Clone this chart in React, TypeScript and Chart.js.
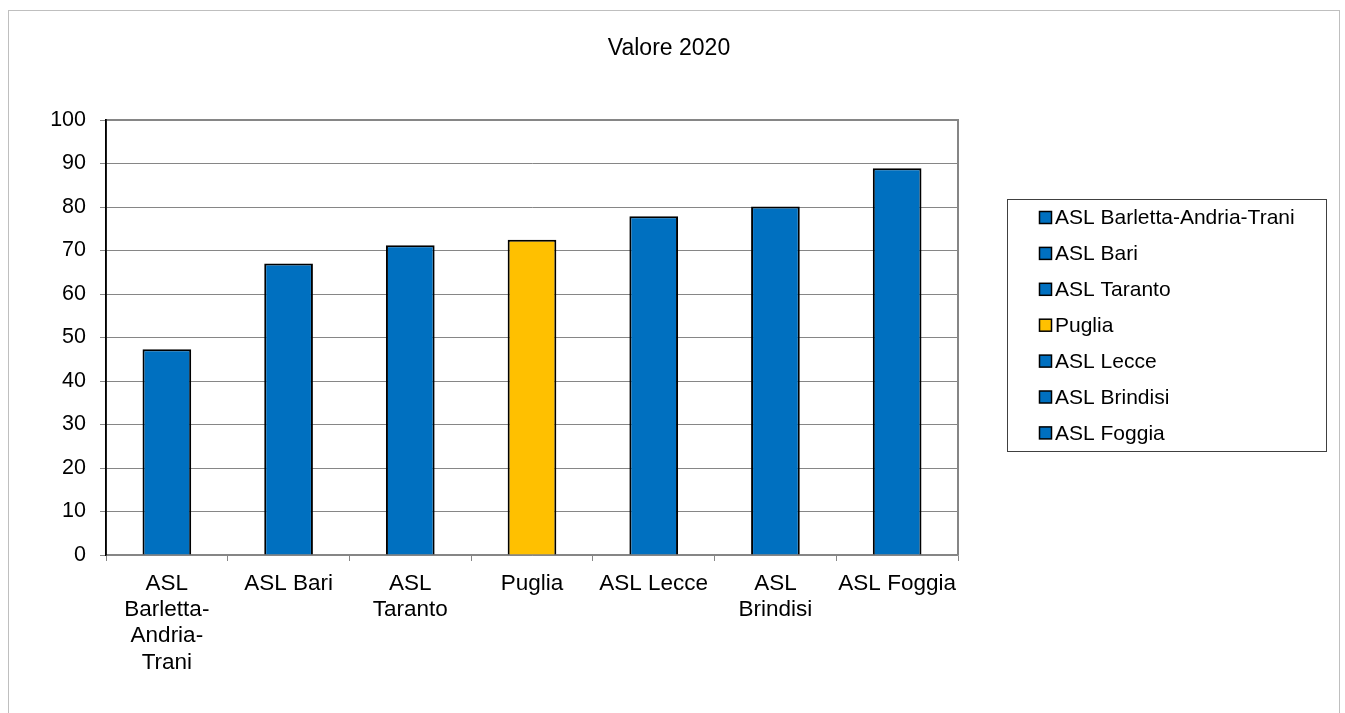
import React, { useEffect, useRef } from "react";
import { Chart, registerables } from "chart.js";

Chart.register(...registerables);

const chartTitle = "Valore 2020";
const categories = [
  "ASL Barletta-Andria-Trani",
  "ASL Bari",
  "ASL Taranto",
  "Puglia",
  "ASL Lecce",
  "ASL Brindisi",
  "ASL Foggia",
];
const tickLabels = [
  ["ASL", "Barletta-", "Andria-", "Trani"],
  ["ASL Bari"],
  ["ASL", "Taranto"],
  ["Puglia"],
  ["ASL Lecce"],
  ["ASL", "Brindisi"],
  ["ASL Foggia"],
];
const values = [47.3, 67.0, 71.2, 72.5, 77.9, 80.1, 88.9];
const yMin = 0;
const yMax = 100;
const yStep = 10;

const BLUE = "#0070C0";
const GOLD = "#FFC000";
const barColors = categories.map((c) => (c === "Puglia" ? GOLD : BLUE));

const FONT = "'Liberation Sans', Arial, Helvetica, sans-serif";
const W = 1345;
const H = 713;

const framePlugin = {
  id: "framePlugin",
  beforeDraw(chart: any) {
    const ctx = chart.ctx;
    ctx.save();
    ctx.fillStyle = "#ffffff";
    ctx.fillRect(0, 0, chart.width, chart.height);
    ctx.strokeStyle = "#bfbfbf";
    ctx.lineWidth = 1;
    ctx.strokeRect(8.5, 10.5, 1331, 760);
    // title
    ctx.fillStyle = "#000";
    ctx.font = `23px ${FONT}`;
    ctx.textAlign = "center";
    ctx.textBaseline = "middle";
    ctx.fillText(chartTitle, 669, 49);
    ctx.restore();
  },
  afterDraw(chart: any) {
    const ctx = chart.ctx;
    const a = chart.chartArea;
    ctx.save();
    // plot area top and right edges
    ctx.strokeStyle = "#868686";
    ctx.lineWidth = 2;
    ctx.beginPath();
    ctx.moveTo(a.left, a.top);
    ctx.lineTo(a.right, a.top);
    ctx.lineTo(a.right, a.bottom);
    ctx.stroke();
    // y axis line
    ctx.strokeStyle = "#000000";
    ctx.lineWidth = 1.5;
    ctx.beginPath();
    ctx.moveTo(a.left, a.top - 1);
    ctx.lineTo(a.left, a.bottom);
    ctx.stroke();

    // legend
    const bx = 1007.5, by = 199.5, bw = 319, bh = 252;
    ctx.strokeStyle = "#404040";
    ctx.lineWidth = 1;
    ctx.strokeRect(bx, by, bw, bh);
    const ds = chart.data.datasets[0];
    const labels = chart.data.labels as string[];
    ctx.font = `21px ${FONT}`;
    ctx.textBaseline = "middle";
    ctx.textAlign = "left";
    labels.forEach((lab, i) => {
      const cy = 217.5 + i * 35.9;
      ctx.fillStyle = (ds.backgroundColor as string[])[i];
      ctx.fillRect(1039.5, cy - 6, 12, 12);
      ctx.strokeStyle = "#000";
      ctx.lineWidth = 1.5;
      ctx.strokeRect(1039.5, cy - 6, 12, 12);
      ctx.fillStyle = "#000";
      ctx.fillText(lab, 1055, cy + 1);
    });
    ctx.restore();
  },
};

export default function App() {
  const ref = useRef<HTMLCanvasElement | null>(null);

  useEffect(() => {
    if (!ref.current) return;
    const chart = new Chart(ref.current, {
      type: "bar",
      data: {
        labels: categories,
        datasets: [
          {
            label: chartTitle,
            data: values,
            backgroundColor: barColors,
            borderColor: "#000000",
            borderWidth: 2,
            barPercentage: 0.4,
            categoryPercentage: 1,
          },
        ],
      },
      options: {
        responsive: false,
        animation: false,
        devicePixelRatio: 1,
        layout: { padding: { left: 0, right: W - 958, top: 120, bottom: 0 } },
        plugins: {
          legend: { display: false },
          tooltip: { enabled: false },
          title: { display: false },
        },
        scales: {
          x: {
            type: "category",
            grid: {
              display: true,
              offset: true,
              drawOnChartArea: false,
              drawTicks: true,
              tickLength: 6,
              color: "#868686",
            },
            border: { display: true, color: "#868686", width: 1.5 },
            ticks: {
              color: "#000",
              font: { family: FONT, size: 22.5, lineHeight: 1.16 },
              padding: 10,
              maxRotation: 0,
              minRotation: 0,
              autoSkip: false,
              callback: (_v: any, i: number) => tickLabels[i],
            },
            afterFit: (s: any) => {
              s.height = H - 555;
            },
          },
          y: {
            min: yMin,
            max: yMax,
            grid: {
              color: "#868686",
              lineWidth: 1,
              tickLength: 6,
              drawTicks: true,
            },
            border: { display: true, color: "#000", width: 1.5 },
            ticks: {
              stepSize: yStep,
              color: "#000",
              font: { family: FONT, size: 21.5 },
              padding: 14,
            },
            afterFit: (s: any) => {
              s.width = 106;
            },
          },
        },
      },
      plugins: [framePlugin],
    });
    return () => chart.destroy();
  }, []);

  return (
    <div style={{ position: "fixed", left: 0, top: 0, width: W, height: H, background: "#fff" }}>
      <canvas ref={ref} width={W} height={H} style={{ width: W, height: H, display: "block" }} />
    </div>
  );
}
